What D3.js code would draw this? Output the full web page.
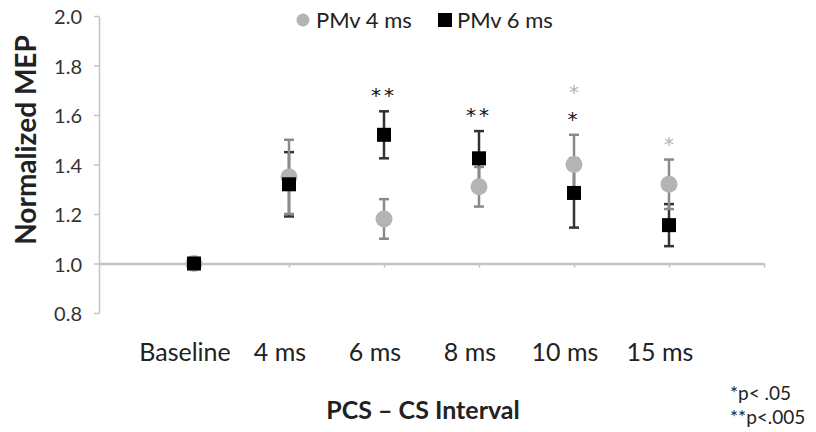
<!DOCTYPE html>
<html>
<head>
<meta charset="utf-8">
<script src="https://cdn.jsdelivr.net/npm/d3@7"></script>
<style>
  body { margin: 0; background: #fff; }
  svg text { font-family: Lato, "Open Sans", sans-serif; fill: #222; }
</style>
</head>
<body>
<svg id="chart" width="816" height="432"></svg>
<script>
// data
let categories = ["Baseline", "4 ms", "6 ms", "8 ms", "10 ms", "15 ms"];
let pmv4 = [1.0, 1.35, 1.18, 1.31, 1.40, 1.32];
let pmv4Err = [0, 0.15, 0.08, 0.08, 0.12, 0.10];
let pmv6 = [1.0, 1.32, 1.52, 1.425, 1.285, 1.155];
let pmv6Err = [0, 0.13, 0.095, 0.11, 0.14, 0.085];
let sig4 = ["", "", "", "", "*", "*"];
let sig6 = ["", "", "**", "**", "*", ""];
let yTicks = [0.8, 1.0, 1.2, 1.4, 1.6, 1.8, 2.0];

let grey = "#b4b4b4";
let axisCol = "#c4c4c4";

let svg = d3.select("#chart");

let x = d3.scaleLinear().domain([0, 7]).range([99, 764]);
let y = d3.scaleLinear().domain([0.8, 2.0]).range([313, 16]);

// y axis
let yAxis = svg.append("g")
  .attr("transform", "translate(99,0)")
  .call(d3.axisLeft(y).tickValues(yTicks).tickFormat(d3.format(".1f")).tickSize(5).tickSizeOuter(0));
yAxis.select(".domain").attr("stroke", axisCol).attr("stroke-width", 1.5);
yAxis.selectAll(".tick line").attr("stroke", axisCol).attr("stroke-width", 1.5);
yAxis.selectAll(".tick text").attr("x", -17).attr("dy", "0.38em")
  .style("font-size", "20px").style("fill", "#333");

// x axis sits at 1.0
let xAxis = svg.append("g")
  .attr("transform", `translate(0,${y(1.0)})`)
  .call(d3.axisBottom(x).tickValues([1, 2, 3, 4, 5, 6, 7]).tickFormat("").tickSize(4).tickSizeOuter(0));
xAxis.select(".domain").attr("stroke", axisCol).attr("stroke-width", 2.5);
xAxis.selectAll(".tick line").attr("stroke", axisCol).attr("stroke-width", 1.5);

// category labels (a bit left of the points, as in the original)
svg.append("g").selectAll("text")
  .data(categories)
  .join("text")
  .attr("x", (d, i) => x(i + 1) - 9)
  .attr("y", 361)
  .attr("text-anchor", "middle")
  .style("font-size", "25px")
  .text(d => d);

// axis titles
svg.append("text")
  .attr("transform", "translate(36,140) rotate(-90)")
  .attr("text-anchor", "middle")
  .style("font-size", "28px").style("font-weight", "bold")
  .text("Normalized MEP");

svg.append("text")
  .attr("x", 423).attr("y", 419)
  .attr("text-anchor", "middle")
  .style("font-size", "25px").style("font-weight", "bold")
  .text("PCS \u2013 CS Interval");

// footnote
svg.append("text").attr("x", 730).attr("y", 400).style("font-size", "19px").text("*p< .05");
svg.append("text").attr("x", 730).attr("y", 424).style("font-size", "19px").text("**p<.005");

// error bars
function errBars(vals, errs, col) {
  let g = svg.append("g").attr("stroke", col).attr("stroke-width", 2.5);
  vals.forEach((v, i) => {
    if (!errs[i]) return;
    let cx = x(i + 1);
    g.append("line").attr("x1", cx).attr("x2", cx).attr("y1", y(v - errs[i])).attr("y2", y(v + errs[i]));
    [v - errs[i], v + errs[i]].forEach(e => {
      g.append("line").attr("x1", cx - 5).attr("x2", cx + 5).attr("y1", y(e)).attr("y2", y(e));
    });
  });
}
errBars(pmv6, pmv6Err, "#333");
errBars(pmv4, pmv4Err, "#8a8a8a");

svg.append("g").selectAll("circle")
  .data(pmv4)
  .join("circle")
  .attr("cx", (d, i) => x(i + 1))
  .attr("cy", d => y(d))
  .attr("r", 8.5)
  .attr("fill", grey);

svg.append("g").selectAll("rect")
  .data(pmv6)
  .join("rect")
  .attr("x", (d, i) => x(i + 1) - 7)
  .attr("y", d => y(d) - 7)
  .attr("width", 14).attr("height", 14)
  .attr("fill", "#000");

// significance stars above the highest error bar
categories.forEach((c, i) => {
  let top = Math.max(pmv4[i] + pmv4Err[i], pmv6[i] + pmv6Err[i]);
  let yy = y(top) - 19;
  if (sig6[i]) {
    svg.append("text").attr("x", x(i + 1)).attr("y", yy + 10)
      .attr("text-anchor", "middle")
      .style("font-family", "'DejaVu Sans', sans-serif")
      .style("font-size", "20px").style("fill", "#111")
      .attr("letter-spacing", "3px")
      .text(sig6[i]);
    yy -= 27;
  }
  if (sig4[i]) {
    svg.append("text").attr("x", x(i + 1)).attr("y", yy + 10)
      .attr("text-anchor", "middle")
      .style("font-family", "'DejaVu Sans', sans-serif")
      .style("font-size", "20px").style("fill", grey)
      .text(sig4[i]);
  }
});

// legend
let leg = svg.append("g");
leg.append("circle").attr("cx", 303).attr("cy", 20).attr("r", 6.5).attr("fill", grey);
leg.append("text").attr("x", 316).attr("y", 28).style("font-size", "22px").text("PMv 4 ms");
leg.append("rect").attr("x", 438).attr("y", 13).attr("width", 14).attr("height", 14).attr("fill", "#000");
leg.append("text").attr("x", 457).attr("y", 28).style("font-size", "22px").text("PMv 6 ms");
</script>
</body>
</html>
